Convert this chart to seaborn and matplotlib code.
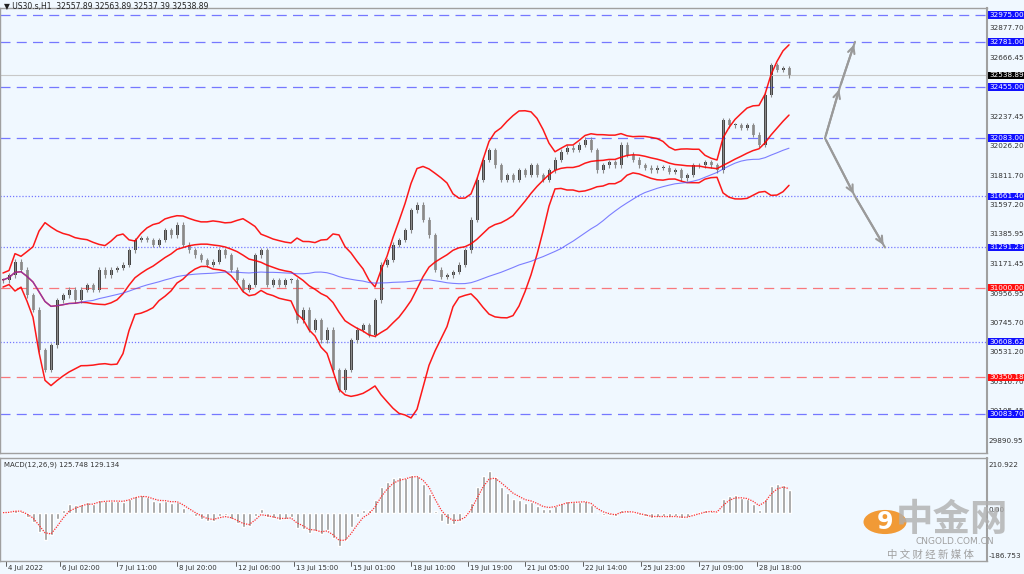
import numpy as np
import pandas as pd
import matplotlib
matplotlib.use("Agg")
import matplotlib.pyplot as plt
import seaborn as sns

sns.set_theme(style="white")
plt.rcParams['font.family'] = ['DejaVu Sans', 'Noto Sans CJK SC']

closes = [31055,31091,31186,31128,30946,30838,30548,30403,30584,30910,30946,30983,30910,30983,31019,
          30983,31128,31091,31128,31142,31164,31272,31345,31359,31345,31309,31345,31417,31381,31454,
          31309,31272,31236,31200,31164,31186,31272,31236,31128,31055,30983,31019,31236,31272,31019,
          31055,31019,31055,31055,30765,30838,30693,30765,30620,30693,30403,30258,30403,30620,30693,
          30729,30657,30910,31164,31200,31309,31345,31417,31562,31599,31490,31381,31128,31077,31091,
          31113,31164,31272,31490,31780,31925,31997,31888,31780,31816,31780,31852,31816,31888,31816,
          31780,31852,31925,31983,32012,31997,32034,32070,31997,31852,31888,31910,31888,32034,31961,
          31925,31888,31867,31852,31867,31867,31838,31852,31794,31816,31888,31888,31910,31888,31852,
          32214,32178,32178,32157,32178,32106,32034,32396,32613,32577,32591,32539]
levels = [32975.00, 32781.00, 32455.00, 32083.00, 31661.46, 31291.23, 31000.00, 30608.62, 30350.18, 30083.70]
level_colors = ['#1010ff','#1010ff','#1010ff','#1010ff','#1010ff','#1010ff','#ff1010','#1010ff','#ff1010','#1010ff']
level_styles = ['dash','dash','dash','dash','dot','dot','dash','dot','dash','dash']
gray_ticks = [32877.70, 32666.45, 32237.45, 32026.20, 31811.70, 31597.20, 31385.95, 31171.45,
              30956.95, 30745.70, 30531.20, 30316.70, 30105.45, 29890.95]
current = 32538.89
date_labels = ["4 Jul 2022","6 Jul 02:00","7 Jul 11:00","8 Jul 20:00","12 Jul 06:00","13 Jul 15:00",
               "15 Jul 01:00","18 Jul 10:00","19 Jul 19:00","21 Jul 05:00","22 Jul 14:00",
               "25 Jul 23:00","27 Jul 09:00","28 Jul 18:00"]
date_pos = [0.5, 9.5, 19, 29, 38.8, 48.5, 58, 68, 77.5, 87, 96.7, 106.3, 116, 125.7]
arrow_up = [32083, 32455, 32781]
arrow_dn = [32083, 31661, 31291]
arrow_x = [137, 139.5, 142]
arrow_x_dn = [137, 142, 147]

n = len(closes)
idx = np.arange(n)
c = np.array(closes, float)
o = np.r_[c[0], c[:-1]]
hi = np.maximum(o, c) + 18
lo = np.minimum(o, c) - 18
s = pd.Series(c)
mid = s.rolling(14, min_periods=1).mean()
sd = s.rolling(14, min_periods=2).std().bfill()
up = mid + 2*sd; dn = mid - 2*sd
ma = s.rolling(45, min_periods=1).mean()
macd = s.ewm(span=4).mean() - s.ewm(span=8).mean()
sig = macd.ewm(span=3).mean()
df = pd.DataFrame(dict(i=idx, up=up, mid=mid, dn=dn, ma=ma, macd=macd, sig=sig))

bg = '#f0f8ff'
fig = plt.figure(figsize=(10.24, 5.74), dpi=100, facecolor=bg)
W, H = 1024, 574
axr = 987
ax = fig.add_axes([0, 1-453/H, axr/W, 445/H], facecolor=bg)
ax2 = fig.add_axes([0, 1-561/H, axr/W, 103/H], facecolor=bg)
xl = (-0.5, (axr-3)/6)
ax.set_xlim(*xl); ax2.set_xlim(*xl)
ymax = 33084 - 7.246*8; ymin = 33084 - 7.246*453
ax.set_ylim(ymin, ymax)

dash = {'dash': (0, (8, 5)), 'dot': (0, (1, 1.5))}
for lv, col, st in zip(levels, level_colors, level_styles):
    ax.axhline(lv, color=col, alpha=0.55, lw=0.9, ls=dash[st])
ax.axhline(current, color='#c8c8c8', lw=0.8)

ax.vlines(idx, lo, hi, color='#8a8a8a', lw=0.8)
body_b = np.abs(c-o); body_b[body_b < 4] = 4
ax.bar(idx, body_b, bottom=np.minimum(o, c), width=0.5,
       color=np.where(c >= o, '#444444', '#9a9a9a'), lw=0)

for col, cl, lw in [('up','#ff0000',1.1),('mid','#ff0000',1.1),('dn','#ff0000',1.1),('ma','#4a4aff',0.8)]:
    sns.lineplot(data=df, x='i', y=col, ax=ax, color=cl, lw=lw, alpha=0.9 if cl!='#4a4aff' else 0.7)

for xs, ys in [(arrow_x, arrow_up), (arrow_x_dn, arrow_dn)]:
    ax.plot(xs, ys, color='#9a9a9a', lw=1.5)
    ax.annotate('', xy=(xs[-1], ys[-1]), xytext=(xs[-2], ys[-2]),
                arrowprops=dict(arrowstyle='->', color='#9a9a9a', lw=1.5))
    ax.annotate('', xy=(xs[1], ys[1]), xytext=(xs[0], ys[0]),
                arrowprops=dict(arrowstyle='->', color='#9a9a9a', lw=1.5))

mrange = (macd.min(), macd.max())
ax2.bar(idx, macd, width=0.5, color='#9a9a9a')
sns.lineplot(data=df, x='i', y='sig', ax=ax2, color='#ff3030', lw=0.9, ls=(0, (1, 1)))
top = max(abs(mrange[0]), abs(mrange[1]))*1.1
ax2.set_ylim(-top*1.06, top*1.2)

for a in (ax, ax2):
    a.set_xticks([]); a.set_yticks([]); a.set_xlabel(''); a.set_ylabel('')
    for sp in a.spines.values():
        sp.set_color('#a0a0a0'); sp.set_linewidth(1)
ax.spines['right'].set_linewidth(1.5)
ax2.spines['right'].set_linewidth(1.5)

FS = 5.2
def ylab(axis, v, text, fc=None, tc='#333333'):
    kw = dict(transform=axis.get_yaxis_transform(), fontsize=FS, va='center', ha='left', color=tc)
    if fc:
        kw['bbox'] = dict(boxstyle='square,pad=0.1', fc=fc, ec='none')
    axis.text(1.002, v, text, **kw)

for v in gray_ticks:
    ylab(ax, v, f"{v:.2f}")
for lv, col in zip(levels, level_colors):
    ylab(ax, lv, f"{lv:.2f}", fc=col, tc='white')
ylab(ax, current, f"{current:.2f}", fc='black', tc='white')

ax2.text(1.002, 0.93, "210.922", transform=ax2.transAxes, fontsize=FS, va='center', color='#333')
ax2.text(1.002, 0.5, "0.00", transform=ax2.transAxes, fontsize=FS, va='center', color='#333')
ax2.text(1.002, 0.05, "-186.753", transform=ax2.transAxes, fontsize=FS, va='center', color='#333')
ax2.text(0.004, 0.93, "MACD(12,26,9) 125.748 129.134", transform=ax2.transAxes, fontsize=5, va='center', color='#333')

fig.text(0.004, 1-7/H, "\u25bc US30.s,H1  32557.89 32563.89 32537.39 32538.89", fontsize=5.5, va='center', color='#222')

for p, lab in zip(date_pos, date_labels):
    ax2.text(p + 0.3, -0.04, lab, transform=ax2.get_xaxis_transform(), fontsize=5, va='top', ha='left', color='#333')
    ax2.plot([p, p], [0, -0.05], transform=ax2.get_xaxis_transform(), color='#444', lw=0.6, clip_on=False)

fig.patches.append(matplotlib.patches.Circle((885/W, 1-522/H), 0.021, transform=fig.transFigure,
                                             fc='#f29020', ec='none', alpha=0.9))
fig.text(885/W, 1-522/H, "9", fontsize=17, color='white', ha='center', va='center', fontweight='bold')
fig.text(952/W, 1-519/H, "中金网", fontsize=27, color='#b0b0b0', ha='center', va='center',
         family=['Noto Sans CJK SC'], fontweight='bold', alpha=0.8)
fig.text(955/W, 1-542/H, "CNGOLD.COM.CN", fontsize=6.5, color='#a0a0a0', ha='center', va='center')
fig.text(930/W, 1-555/H, "中 文 财 经 新 媒 体", fontsize=7.5, color='#a0a0a0', ha='center', va='center',
         family=['Noto Sans CJK SC'])

fig.savefig("out.png", dpi=100, facecolor=bg)
